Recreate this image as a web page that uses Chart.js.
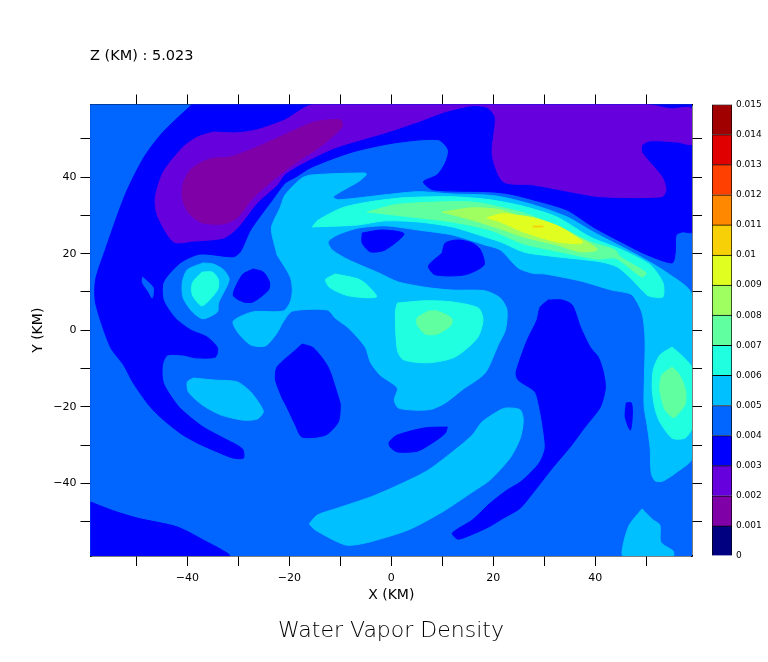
<!DOCTYPE html>
<html>
<head>
<meta charset="utf-8">
<title>Water Vapor Density</title>
<script src="https://cdn.jsdelivr.net/npm/chart.js@4"></script>
<style>
  body { margin: 0; background: #fff; width: 768px; height: 662px; position: relative; overflow: hidden; font-family: "DejaVu Sans", sans-serif; color: #000; }
  canvas { position: absolute; top: 0; }
  #grafica { left: 0; }
  #barra { left: 712px; }
  .texto { position: absolute; white-space: nowrap; line-height: 1; }
  #zLabel { left: 90px; top: 48px; font-size: 14.5px; }
  #titulo { left: 0; width: 782px; text-align: center; top: 619px; font-size: 22px; font-family: "DejaVu Sans ExtraLight", "DejaVu Sans", sans-serif; font-weight: 200; }
</style>
</head>
<body>
<canvas id="grafica" width="768" height="662"></canvas>
<canvas id="barra" width="56" height="662"></canvas>
<div class="texto" id="zLabel">Z (KM) : 5.023</div>
<div class="texto" id="titulo">Water Vapor Density</div>
<script>
// contour levels of the colour bar, bottom to top
const levelLabels = ['0','0.001','0.002','0.003','0.004','0.005','0.006','0.007','0.008','0.009','0.01','0.011','0.012','0.013','0.014','0.015'];
const levelValues = [0,0.001,0.002,0.003,0.004,0.005,0.006,0.007,0.008,0.009,0.01,0.011,0.012,0.013,0.014,0.015];
const levelBands = [0.001,0.001,0.001,0.001,0.001,0.001,0.001,0.001,0.001,0.001,0.001,0.001,0.001,0.001,0.001];
const levelColors = ['#000080','#8000a8','#6600dd','#0000ff','#0066ff','#00c0ff','#20ffe0','#60ffa0','#a0ff60','#e0ff20','#f8d008','#ff8800','#ff4000','#e00000','#a00000'];

const xTicks = [-50,-40,-30,-20,-10,0,10,20,30,40,50];
const yTicks = [-50,-40,-30,-20,-10,0,10,20,30,40,50];
const xRange = [-59, 59];
const yRange = [-59, 59];

// contour outlines, [X km, Y km]
const plotArea = [[-59,-59],[59,-59],[59,59],[-59,59]];

const blueMain = [[-39.1,59],[59,59],[59,25.7],[57.1,25.7],[55.9,24.9],[55.7,20.2],[55.1,17.6],[50.2,19.7],[45.5,22.8],[39.6,27],[34.5,31.4],[27.8,34.1],[23.3,35.6],[19.4,36.2],[8.2,36.7],[6.3,38.8],[9,40.6],[10.6,43.7],[11.2,47.1],[9.2,49.8],[0.8,49],[-7.6,46.6],[-15.5,42.7],[-18.8,40],[-20.8,38.5],[-23.3,34.1],[-27.6,26.2],[-29.6,20.5],[-31,19.2],[-37.5,19.9],[-41.4,17.6],[-44.7,12.6],[-44.7,7.9],[-42.4,3.2],[-39.4,0.1],[-36.1,-1.8],[-34.1,-4.6],[-34.5,-7],[-38.4,-7.2],[-40.8,-6.5],[-43.9,-6.5],[-44.9,-9.1],[-44.7,-13.8],[-42,-19.5],[-40,-22.1],[-36.9,-25.3],[-32.9,-28.2],[-29.2,-31],[-29,-33.4],[-31,-33.4],[-34.1,-31.8],[-38,-29.5],[-41.4,-26.9],[-45.3,-22.7],[-47.6,-19.5],[-50.6,-13.8],[-52.5,-9.1],[-55.1,-4.4],[-58,7.1],[-58,13.2],[-56.1,21],[-52.2,35.4],[-48.6,45],[-44.9,51.6]];
const blueCorner = [[-59,-44.9],[-54.5,-47.2],[-49.8,-49.1],[-42,-51.4],[-36.9,-54.8],[-31.8,-59],[-59,-59]];
const notchLeft = [[-48.8,13.9],[-46.7,11.1],[-46.9,8.4],[-47.6,10],[-48.8,12.4]];

const violetMain = [[-34.9,51.8],[-38,50.5],[-40.8,47.9],[-44.7,41.4],[-46.3,34.6],[-45.9,30.1],[-42.7,23.1],[-38.8,23.3],[-32.9,24.1],[-30.2,26.7],[-26.3,33.3],[-22.4,38],[-20.8,40.9],[-16.9,44],[-11,47.7],[-1.2,51.6],[5.3,54.5],[10.6,57.1],[15.9,58.7],[19,58.1],[20.4,55.5],[19.8,45.8],[22,38.8],[27.8,38],[35.1,36.2],[41,34.9],[53.1,34.9],[53.9,36.7],[53.1,40.1],[49.2,46.4],[49.2,48.4],[50.8,49.5],[56.1,49.2],[59,48.7],[59,57.9],[54.7,57.9],[50.2,59],[-15.3,59],[-20.8,55],[-26.3,52.4],[-30.2,51.6]];
const purpleMain = [[-34.9,45],[-37.1,44],[-39.4,41.9],[-40.8,38.5],[-41,34.6],[-39.8,30.7],[-37.1,28.1],[-32.9,27.8],[-30.2,29.4],[-27.1,34.6],[-22.4,40.1],[-18.8,43.7],[-13.5,48.4],[-9.6,53.2],[-10,55],[-14.9,54.5],[-18.8,52.4],[-26.3,47.9],[-31.6,45.3]];

const skyMain = [[-22.4,19.7],[-23.5,26.7],[-21.8,32],[-20.8,35.4],[-17.5,39.8],[-15.5,40.6],[-5.1,41.1],[-4.9,40.6],[-6.5,38.8],[-11.4,34.9],[-10.4,34.1],[-1.2,35.4],[5.3,36.2],[12,35.6],[17.8,35.4],[21.4,34.9],[27.8,32.8],[34.5,29.6],[39.6,25.7],[48.2,19.7],[54.1,15],[59,9.2],[59,-33.4],[56.1,-37],[53.3,-39.4],[51.8,-39.4],[51,-37.3],[50.8,-30.8],[50.2,-24.8],[49.6,-19.5],[49.8,-2.5],[49.2,4.5],[47.3,9.2],[45.5,10],[43.3,10.5],[37.1,12.9],[30.2,14.7],[27.8,14.9],[24.9,16.3],[21.4,21],[18.4,22.3],[12,24.9],[5.3,26.2],[-1.2,27.3],[-6.5,26.7],[-10.6,24.9],[-12.4,23.1],[-11.6,21],[-8.4,18.4],[-2.5,15],[1.4,12.6],[7.3,11.1],[12,10.5],[18.4,10.3],[21.4,8.4],[22.7,5.3],[22.4,0.1],[21,-3.8],[18.4,-11.2],[13.9,-15.6],[10.6,-19],[8,-20.6],[5.3,-20.9],[1.4,-20.3],[0.6,-18.2],[1.2,-15.1],[-2.2,-11.7],[-4.1,-8.3],[-5.1,-4.4],[-8.4,0.6],[-11,3.2],[-12.5,5.3],[-19.4,5],[-21.2,2.2],[-22.4,-0.7],[-24.7,-4.1],[-27.6,-3.8],[-30.2,-0.4],[-31,2.4],[-27.1,4.8],[-21.2,5],[-19.8,7.4],[-19.4,10.5],[-19.8,13.9]];
const skyLeftBlob = [[-36.9,17.6],[-40,15.8],[-41,12.4],[-40.8,8.4],[-39,4.8],[-36.9,3],[-34.1,4.8],[-33.9,7.1],[-31.8,13.2],[-32.9,15.8],[-34.9,17.3]];
const skyLowerLeft = [[-38.8,-12.5],[-40,-13.5],[-39.8,-16.1],[-37.1,-19.5],[-33.5,-22.1],[-29,-23.5],[-26.3,-23.2],[-25.1,-21.4],[-25.7,-19.5],[-27.6,-16.1],[-30.2,-13.5],[-34.9,-13]];
const skyLowerBand = [[-16.1,-50.6],[-14.5,-48.3],[-11,-46.7],[-3.1,-43.1],[6.7,-37],[12,-31.8],[15.9,-27.4],[17.8,-24],[21.4,-20.8],[22.7,-20.3],[25.3,-20.8],[25.9,-23.5],[25.3,-28.2],[23.3,-33.4],[19.4,-39.1],[15.9,-42.3],[10,-47.5],[3.3,-52.2],[-5.1,-55.6],[-9,-56.1],[-14.9,-52.2]];
const skyLowerRight = [[49.2,-46.7],[46.7,-50.9],[45.5,-56.1],[45.5,-59],[55.3,-59],[55.3,-57.7],[52.9,-55.4],[52.7,-50.9],[51.4,-49.6]];

const blueLeftBlob = [[-27.1,16],[-29.2,14.5],[-31,9.2],[-29,7.4],[-27.1,7.4],[-24.1,10.5],[-23.9,12.6],[-25.1,15.2]];
const blueCentreLeft = [[-17.5,-3.6],[-15.3,-4.6],[-12.4,-9.6],[-10.4,-17.4],[-10,-19.5],[-10.4,-24],[-12.9,-27.4],[-17.5,-27.9],[-18.8,-24.8],[-20.4,-20.3],[-21.4,-17.7],[-22.7,-13],[-22.4,-9.6],[-18.8,-5.2]];
const bluePocketA = [[-5.7,25.4],[-1.8,26.2],[2.5,25.2],[-1.2,21],[-4.1,20.5],[-5.7,22.8]];
const bluePocketB = [[10,20.2],[10.6,22.8],[13.1,23.6],[15.9,22.8],[17.5,21],[18.2,17.1],[14.5,14.5],[8.6,14.5],[7.3,16.8]];
const blueLowerMid = [[11,-25.3],[10.6,-26.9],[8,-29.5],[5.1,-31.6],[1.2,-31.8],[-0.2,-30.5],[-0.4,-29.2],[1.2,-27.4],[6.7,-25.5]];
const blueRightBlob = [[30.8,7.9],[29.2,6],[28.6,2.7],[26.7,-2.5],[24.5,-10.9],[24.9,-13],[28.2,-16.1],[29.2,-20.8],[29.8,-25.5],[30.2,-30.8],[29.2,-34.4],[27.3,-37.3],[25.3,-39.7],[22.7,-41.8],[19.4,-45.2],[15.9,-49.6],[12,-53],[13.1,-54.6],[16.5,-53],[19.4,-51.2],[22,-49.1],[25.3,-46.5],[27.8,-42.5],[31.8,-35.7],[35.1,-30.5],[38,-25.3],[41,-20.1],[42,-15.1],[41.6,-10.9],[40.6,-7],[39,-4.4],[37.1,0.9],[35.5,6.6],[33.5,7.9]];
const blueSliver = [[46.1,-19],[47.1,-19],[47.3,-22.1],[46.9,-26.1],[45.9,-22.7]];

const aquaLeftBlob = [[-37.1,15.2],[-39,12.4],[-39,9.2],[-37.1,6.4],[-34.1,10.5],[-33.9,13.2],[-35.1,15.2]];
const aquaSmall = [[-11,14.7],[-12.9,13.2],[-12,11.1],[-8.4,9],[-2.9,8.7],[-4.7,11.8],[-6.5,13.4]];
const aquaCentre = [[1.2,7.1],[0.8,4.8],[1.2,-5.2],[2.4,-7.7],[7.3,-8.5],[12.5,-7],[16.9,-2],[18,2.7],[17.1,5.8],[12,7.4],[6.7,7.7]];
const aquaRight = [[55.1,-4.4],[52.7,-6.5],[51.4,-10.4],[51.2,-15.6],[51.8,-20.8],[52.7,-24],[55.1,-28.2],[57.6,-28.2],[59,-25.5],[59,-9.9],[57.3,-7]];
const aquaBand = [[-15.5,27],[-14.3,28.8],[-9.6,32],[-4.5,33.5],[2.2,34.6],[12,34.9],[19.4,34.1],[25.9,32.4],[32.5,29.6],[39,24.4],[45.3,21],[50.8,17.1],[53.3,12.4],[53.3,8.7],[51.4,8.7],[50.2,9.2],[46.9,13.7],[44.3,16.6],[41,17.9],[32.5,19.2],[26.7,20.2],[24.9,21],[21.4,23.1],[18.4,24.4],[12,27],[5.3,28.3],[-1.2,28.6],[-6.7,27.5]];

const greenCentre = [[7.3,5],[5.1,3.2],[5.1,1.4],[6.7,-1],[9,-1],[11.8,1.4],[11.8,3.2],[9,5]];
const greenRight = [[55.1,-9.6],[53.1,-11.7],[52.7,-15.6],[53.7,-20.8],[55.1,-22.7],[55.7,-22.7],[57.6,-19.5],[57.8,-16.4],[57.3,-13.8],[56.3,-11.2]];
const greenBand = [[-4.7,30.9],[0.8,32.8],[8.6,33.5],[15.9,33.5],[21.4,32.2],[25.9,30.7],[33.1,27],[39,23.1],[43.9,21],[44.9,19.2],[50,15],[49.2,13.9],[45.5,17.6],[43.9,18.9],[40.4,18.6],[33.1,20.5],[25.9,22.6],[19.4,26.2],[12,28.3],[5.3,29.4]];
const limeBand = [[10,30.9],[15.9,32],[21.4,31.5],[25.9,29.4],[33.1,26.2],[38.4,23.1],[40.4,21],[37.1,20.5],[32.5,22.3],[25.9,24.4],[21.4,26.5],[15.9,28.8]];
const yellowBand = [[18.8,29.4],[21.4,30.4],[22.7,30.4],[27.8,29.4],[33.1,27],[37.6,23.1],[36.7,22.6],[32.5,23.1],[25.9,25.7],[21.4,28.3]];
const goldSliver = [[27.8,27.2],[29.8,27.2],[29.8,27],[27.8,27]];

// painted in this order, each one over the last: [outline, band index]
const capas = [
  [plotArea, 4],
  [blueMain, 3], [blueCorner, 3], [notchLeft, 4],
  [violetMain, 2], [purpleMain, 1],
  [skyMain, 5], [skyLeftBlob, 5], [skyLowerLeft, 5], [skyLowerBand, 5], [skyLowerRight, 5],
  [blueLeftBlob, 3], [blueCentreLeft, 3], [bluePocketA, 3], [bluePocketB, 3], [blueLowerMid, 3], [blueRightBlob, 3], [blueSliver, 3],
  [aquaLeftBlob, 6], [aquaSmall, 6], [aquaCentre, 6], [aquaRight, 6], [aquaBand, 6],
  [greenCentre, 7], [greenRight, 7], [greenBand, 7],
  [limeBand, 8], [yellowBand, 9], [goldSliver, 10]
];

const datasets = capas.map(([puntos, banda]) => ({
  data: puntos.concat([puntos[0]]).map(p => ({ x: p[0], y: p[1] })),
  showLine: true,
  fill: 'shape',
  backgroundColor: levelColors[banda],
  borderColor: levelColors[banda],
  borderWidth: 1,
  pointRadius: 0,
  tension: puntos === plotArea ? 0 : 0.25
})).reverse(); // the library paints the first dataset last

const familia = '"DejaVu Sans", sans-serif';
const fuente = { family: familia, size: 11 };
const fuenteTitulo = { family: familia, size: 14 };
const negro = '#000';

function eje(posicion, rango, marcas, ancho, extra) {
  return Object.assign({
    type: 'linear',
    position: posicion,
    min: rango[0],
    max: rango[1],
    afterBuildTicks: (s) => { s.ticks = marcas.map(v => ({ value: v })); },
    afterFit: (s) => {
      if (s.isHorizontal()) s.height = ancho; else s.width = ancho;
    },
    grid: { drawOnChartArea: false, drawTicks: true, tickLength: 10, tickColor: negro, tickWidth: 1 },
    border: { display: true, color: negro, width: 1.5 }
  }, extra);
}

function etiqueta(v) {
  if (v % 20 !== 0) return '';
  return v < 0 ? '\u2212' + Math.abs(v) : String(v);
}

new Chart(document.getElementById('grafica'), {
  type: 'scatter',
  data: { datasets },
  options: {
    responsive: false,
    animation: false,
    layout: { padding: 0 },
    plugins: { legend: { display: false }, tooltip: { enabled: false } },
    scales: {
      x: eje('bottom', xRange, xTicks, 106, {
        ticks: { color: negro, font: fuente, padding: 6, maxRotation: 0, autoSkip: false, callback: etiqueta },
        title: { display: true, text: 'X (KM)', color: negro, font: fuenteTitulo, padding: { top: 0, bottom: 58 } }
      }),
      y: eje('left', yRange, yTicks, 90.5, {
        ticks: { color: negro, font: fuente, padding: 4, autoSkip: false, callback: etiqueta },
        title: { display: true, text: 'Y (KM)', color: negro, font: fuenteTitulo, padding: { top: 30, bottom: 0 } }
      }),
      x2: eje('top', xRange, xTicks, 104.5, { ticks: { display: false } }),
      y2: eje('right', yRange, yTicks, 76, { ticks: { display: false } })
    }
  }
});

new Chart(document.getElementById('barra'), {
  type: 'bar',
  data: {
    labels: [''],
    datasets: levelBands.map((b, i) => ({
      data: [b],
      backgroundColor: levelColors[i],
      borderColor: negro,
      borderWidth: 1,
      barPercentage: 1,
      categoryPercentage: 1
    }))
  },
  options: {
    responsive: false,
    animation: false,
    layout: { padding: { top: 104.5, bottom: 106 } },
    plugins: { legend: { display: false }, tooltip: { enabled: false } },
    scales: {
      x: { stacked: true, display: false },
      y: {
        stacked: true,
        position: 'right',
        min: 0,
        max: 0.015,
        afterBuildTicks: (s) => { s.ticks = levelValues.map(v => ({ value: v })); },
        afterFit: (s) => { s.width = 36; },
        grid: { drawOnChartArea: false, drawTicks: false },
        border: { display: false },
        ticks: {
          color: negro,
          font: { family: familia, size: 9 },
          padding: 4,
          autoSkip: false,
          callback: (v, i) => levelLabels[i]
        }
      }
    }
  }
});
</script>
</body>
</html>
